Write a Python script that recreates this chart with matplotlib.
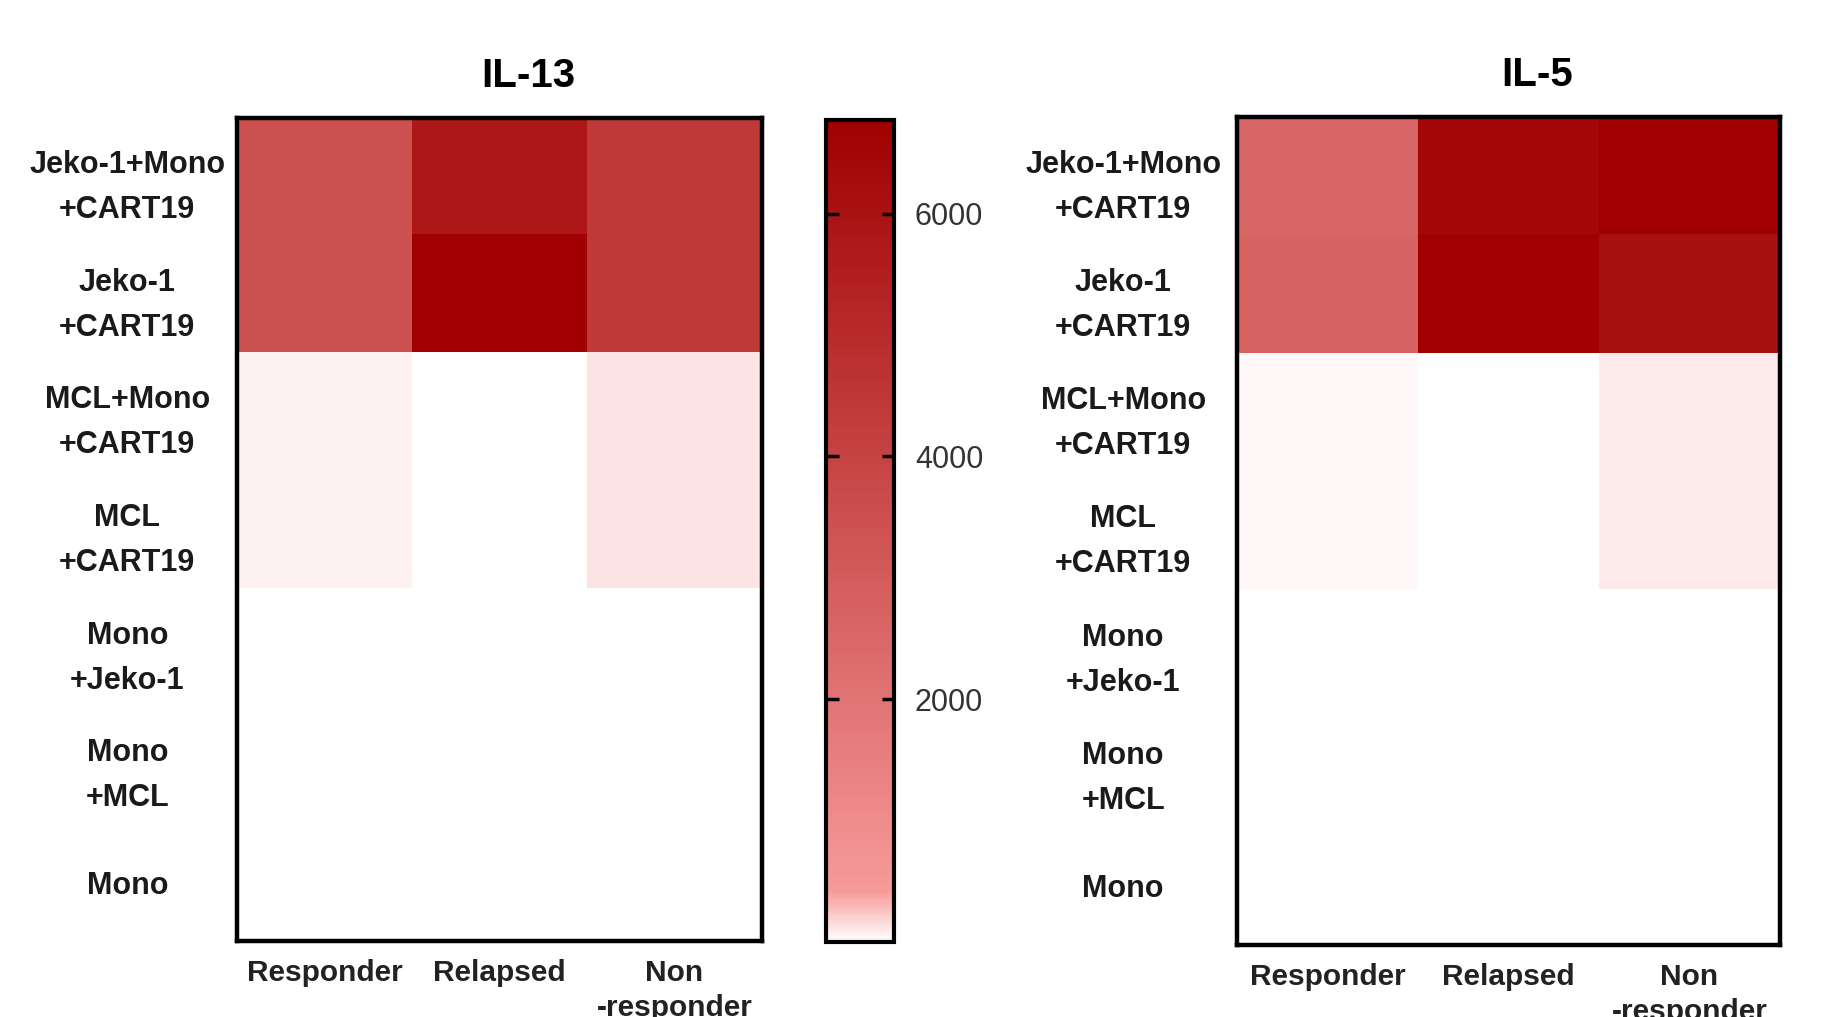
import numpy as np
import matplotlib
matplotlib.use("Agg")
import matplotlib.pyplot as plt
from matplotlib.colors import LinearSegmentedColormap

plt.rcParams['font.family'] = ['Liberation Sans', 'DejaVu Sans']

# ---------------------------------- data ----------------------------------
groups = ["Jeko-1+Mono\n+CART19", "Jeko-1\n+CART19", "MCL+Mono\n+CART19",
          "MCL\n+CART19", "Mono\n+Jeko-1", "Mono\n+MCL", "Mono"]
cohorts = ["Responder", "Relapsed", "Non\n-responder"]

il13_responder = [3460, 3440, 60, 55, 5, 5, 4]
il13_relapsed = [5780, 6770, 2, 2, 2, 2, 2]
il13_nonresp = [4380, 4400, 115, 112, 10, 8, 8]

il5_responder = [2550, 2720, 40, 38, 3, 3, 3]
il5_relapsed = [6440, 6770, 2, 2, 2, 2, 2]
il5_nonresp = [6750, 6030, 93, 93, 9, 6, 6]

cbar_ticks = [2000, 4000, 6000]
vmin, vmax = 0, 6770

# white -> pink -> dark red, like the prism gradient
cmap = LinearSegmentedColormap.from_list(
    "reds", [(0.0, "#ffffff"), (0.06, "#f79a9a"), (1.0, "#a00000")])

il13 = np.column_stack([il13_responder, il13_relapsed, il13_nonresp])
il5 = np.column_stack([il5_responder, il5_relapsed, il5_nonresp])

fig = plt.figure(figsize=(18.33, 10.17), dpi=100)
ax1 = fig.add_axes([0.1293, 0.0747, 0.2864, 0.8093])
cax = fig.add_axes([0.4506, 0.0737, 0.0371, 0.8083])
ax2 = fig.add_axes([0.6749, 0.0708, 0.2962, 0.8142])


def draw(ax, data, title, ypad, title_x):
    im = ax.imshow(data, cmap=cmap, vmin=vmin, vmax=vmax, aspect='auto',
                   interpolation='nearest')
    ax.set_xticks(range(len(cohorts)))
    ax.set_xticklabels(cohorts, fontsize=21.5, fontweight='bold', color='#222222',
                       linespacing=1.3)
    ax.set_yticks(range(len(groups)))
    ax.set_yticklabels(groups, fontsize=22, fontweight='bold', color='#1a1a1a',
                       ha='center', multialignment='center', linespacing=1.65)
    ax.tick_params(axis='x', length=0, pad=13)
    ax.tick_params(axis='y', length=0, pad=ypad)
    for s in ax.spines.values():
        s.set_linewidth(3.2)
        s.set_color('black')
    ax.set_title(title, fontsize=29, fontweight='bold', x=title_x, pad=22)
    return im


im = draw(ax1, il13, "IL-13", 79, 0.555)
draw(ax2, il5, "IL-5", 82, 0.553)

cb = fig.colorbar(im, cax=cax, ticks=cbar_ticks)
cb.outline.set_linewidth(3)
cax.yaxis.set_ticks_position('both')
cax.tick_params(direction='in', length=9, width=2.5, labelright=True,
                labelleft=False, labelsize=22, labelcolor='#333333', pad=15)

fig.savefig("out.png", dpi=100)
